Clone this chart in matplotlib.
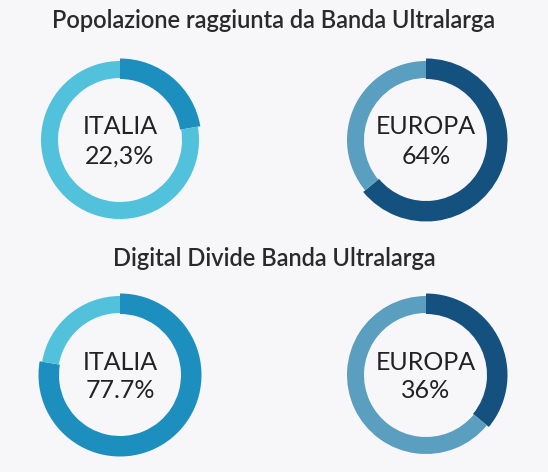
import matplotlib
matplotlib.use("Agg")
import matplotlib.pyplot as plt

# Data
titles = ["Popolazione raggiunta da Banda Ultralarga", "Digital Divide Banda Ultralarga"]
regions = ["ITALIA", "EUROPA"]
values = [[22.3, 64.0], [77.7, 36.0]]
value_labels = [["22,3%", "64%"], ["77.7%", "36%"]]

# Style
bg = "#f7f7f9"
dark_colors = ["#1d8fbf", "#14517f"]
light_colors = ["#52c1dc", "#5a9ec0"]
text_color = "#222222"
W, H = 548, 472

fig = plt.figure(figsize=(W / 100, H / 100), dpi=100, facecolor=bg)
ax = fig.add_axes([0, 0, 1, 1])
ax.set_facecolor(bg)

centers_x = [120, 426]
centers_y = [140, 375]
title_y = [21, 258]

for row in range(2):
    ax.text(W / 2, title_y[row], titles[row], ha="center", va="center",
            fontsize=17, color="#2a2a2a", family="Lato", fontweight="semibold")
    for col in range(2):
        v = values[row][col]
        cx, cy = centers_x[col], centers_y[row]
        # y axis is inverted: start at -90 (visual top), counterclock=True -> visual clockwise
        wedges, _ = ax.pie([v, 100 - v], colors=[dark_colors[col], light_colors[col]],
                           startangle=-90, counterclock=True, radius=79,
                           center=(cx, cy), frame=True,
                           wedgeprops=dict(width=17, linewidth=0))
        wedges[0].set_radius(81.5)
        wedges[0].set_width(20.5)
        ax.text(cx, cy - 13, regions[col], ha="center", va="center",
                fontsize=18, color=text_color, family="Lato")
        ax.text(cx, cy + 16, value_labels[row][col], ha="center", va="center",
                fontsize=18, color=text_color, family="Lato")

ax.set_xlim(0, W)
ax.set_ylim(H, 0)
ax.set_aspect("equal")
ax.axis("off")

fig.savefig("out.png", dpi=100, facecolor=bg)
